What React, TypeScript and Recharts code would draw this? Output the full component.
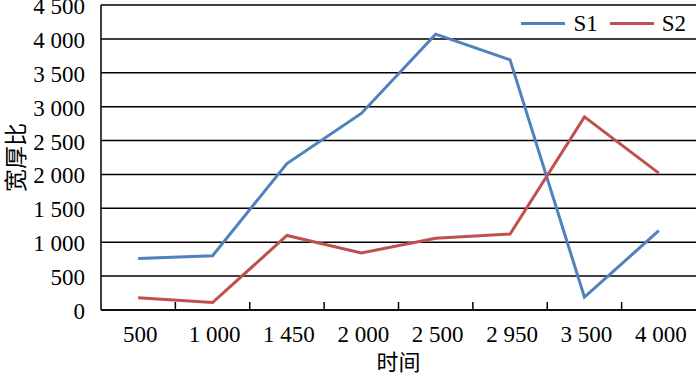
import { LineChart, Line, XAxis, YAxis, CartesianGrid, Label } from "recharts";

const times = ["500", "1 000", "1 450", "2 000", "2 500", "2 950", "3 500", "4 000"];
const s1 = [760, 800, 2160, 2900, 4070, 3690, 190, 1170];
const s2 = [180, 110, 1100, 840, 1060, 1120, 2850, 2020];
const yTicks = [0, 500, 1000, 1500, 2000, 2500, 3000, 3500, 4000, 4500];

const data = times.map((t, i) => ({ time: t, S1: s1[i], S2: s2[i] }));

const FONT = "'Times New Roman', 'Liberation Serif', 'DejaVu Serif', serif";
const CJK = "'Noto Sans CJK SC', sans-serif";
const STEP = 595 / 8;

const fmt = (v: number) => {
  const s = String(v);
  return s.length > 3 ? s.slice(0, -3) + " " + s.slice(-3) : s;
};

function XTick({ x, payload, index }: any) {
  return (
    <g>
      {index > 0 && (
        <line x1={x - STEP / 2} x2={x - STEP / 2} y1={310} y2={302} stroke="#000" strokeWidth={1.5} />
      )}
      <text x={x + 2} y={342} textAnchor="middle" fontFamily={FONT} fontSize={23} fill="#000">
        {payload.value}
      </text>
    </g>
  );
}

function YTick({ x, y, payload }: any) {
  return (
    <text x={x} y={y + 9} textAnchor="end" fontFamily={FONT} fontSize={23} fill="#000">
      {fmt(payload.value)}
    </text>
  );
}

function LegendBox() {
  const item = (name: string, color: string) => (
    <span style={{ display: "inline-flex", alignItems: "center", marginLeft: 12 }}>
      <span style={{ display: "inline-block", width: 44, height: 3, background: color, marginRight: 8 }} />
      <span style={{ fontFamily: FONT, fontSize: 23, color: "#000", lineHeight: "23px" }}>{name}</span>
    </span>
  );
  return (
    <div style={{ position: "absolute", top: 12, right: 14, display: "flex" }}>
      {item("S1", "#4F81BD")}
      {item("S2", "#C0504D")}
    </div>
  );
}

export default function App() {
  return (
    <div style={{ position: "absolute", left: 0, top: 0, width: 700, height: 378, background: "#fff" }}>
      <LineChart width={700} height={378} data={data} margin={{ top: 5, right: 4, left: 0, bottom: 0 }}>
        <CartesianGrid horizontal vertical={false} stroke="#000" strokeWidth={1.5} />
        <XAxis
          dataKey="time"
          interval={0}
          padding={{ left: STEP / 2, right: STEP / 2 }}
          height={68}
          tickLine={false}
          axisLine={{ stroke: "#000", strokeWidth: 1.5 }}
          tick={<XTick />}
        >
          <Label value="时间" position="insideBottom" offset={8} style={{ fontFamily: CJK, fontSize: 22, fill: "#000" }} />
        </XAxis>
        <YAxis
          width={101}
          domain={[0, 4500]}
          ticks={yTicks}
          interval={0}
          tickLine={false}
          axisLine={{ stroke: "#000", strokeWidth: 1.5 }}
          tick={<YTick />}
          tickMargin={10}
        >
          <Label value="宽厚比" angle={-90} position="insideLeft" offset={16} style={{ fontFamily: CJK, fontSize: 23, fill: "#000", textAnchor: "middle" }} />
        </YAxis>
        <YAxis yAxisId="r" orientation="right" width={0} tick={false} tickLine={false} axisLine={{ stroke: "#000", strokeWidth: 1.5 }} />
        <Line dataKey="S1" stroke="#4F81BD" strokeWidth={3} dot={false} isAnimationActive={false} />
        <Line dataKey="S2" stroke="#C0504D" strokeWidth={3} dot={false} isAnimationActive={false} />
      </LineChart>
      <LegendBox />
    </div>
  );
}
